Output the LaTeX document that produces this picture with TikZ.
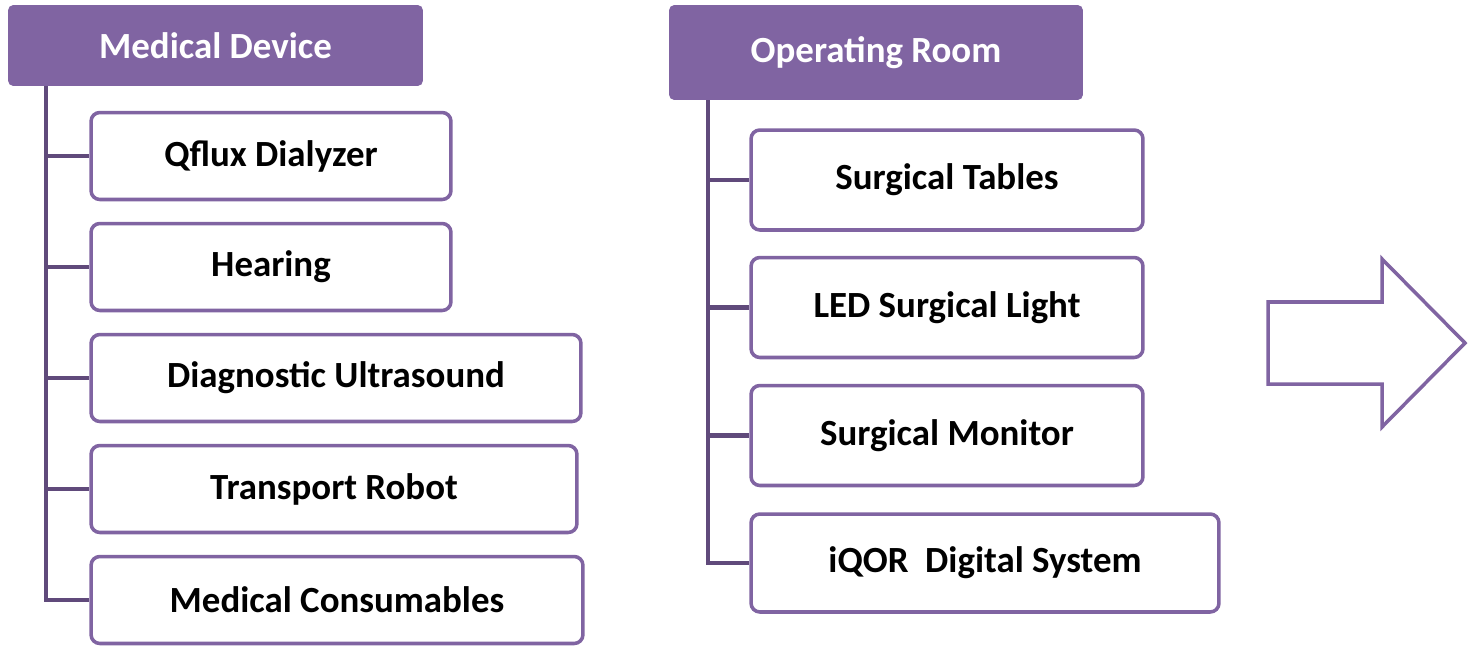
\documentclass[tikz,border=0pt]{standalone}
\usepackage{fontspec}
\setmainfont{Carlito}
\definecolor{headPurple}{HTML}{8064A2}
\definecolor{boxPurple}{HTML}{8064A2}
\definecolor{stemPurple}{HTML}{604A7B}
\begin{document}
\begin{tikzpicture}[x=0.02cm, y=-0.02cm,
    head/.style={fill=headPurple, rounded corners=3pt, text=white, inner sep=0pt,
        font=\bfseries\fontsize{21}{25}\selectfont},
    item/.style={draw=boxPurple, line width=2pt, rounded corners=5pt, fill=white, inner sep=0pt,
        minimum height=1.74cm, font=\bfseries\fontsize{21}{25}\selectfont},
    stem/.style={draw=stemPurple, line width=2.6pt}]
    \useasboundingbox (0,0) rectangle (1473,646);

    % Medical Device column
    \node [head, minimum width=8.3cm, minimum height=1.62cm] (devHead) at (215.5,45.5) {Medical Device};
    \node [item, minimum width=7.2cm] (devA) at (271,156) {Qflux Dialyzer};
    \node [item, minimum width=7.2cm] (devB) at (271,267) {Hearing};
    \node [item, minimum width=9.8cm] (devC) at (336,378) {Diagnostic Ultrasound};
    \node [item, minimum width=9.72cm] (devD) at (334,489) {Transport Robot};
    \node [item, minimum width=9.84cm] (devE) at (337,600) {Medical Consumables};

    \coordinate (devTop) at (46,86);
    \draw [stem] (devTop) |- (devE.west);
    \foreach \n in {devA,devB,devC,devD}
        \draw [stem] (devTop |- \n.west) -- (\n.west);

    % Operating Room column
    \node [head, minimum width=8.28cm, minimum height=1.9cm] (roomHead) at (876,52.5) {Operating Room};
    \node [item, minimum width=7.84cm, minimum height=2.0cm] (roomA) at (947,180) {Surgical Tables};
    \node [item, minimum width=7.84cm, minimum height=2.0cm] (roomB) at (947,307.5) {LED Surgical Light};
    \node [item, minimum width=7.84cm, minimum height=2.0cm] (roomC) at (947,435.5) {Surgical Monitor};
    \node [item, minimum width=9.36cm, minimum height=1.96cm] (roomD) at (985,563) {iQOR~ Digital System};

    \coordinate (roomTop) at (708,100);
    \draw [stem] (roomTop) |- (roomD.west);
    \foreach \n in {roomA,roomB,roomC}
        \draw [stem] (roomTop |- \n.west) -- (\n.west);

    % block arrow
    \draw [boxPurple, line width=2pt] (1268,302) -- (1382,302) -- (1382,259) -- (1465,343)
        -- (1382,427) -- (1382,384) -- (1268,384) -- cycle;
\end{tikzpicture}
\end{document}
